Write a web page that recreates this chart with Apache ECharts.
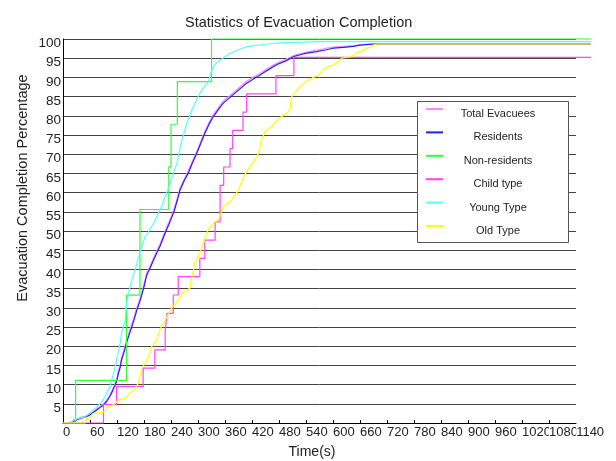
<!DOCTYPE html>
<html>
<head>
<meta charset="utf-8">
<script src="https://cdn.jsdelivr.net/npm/echarts@6/dist/echarts.min.js"></script>
<style>
html,body{margin:0;padding:0;background:#fff;}
#c{width:616px;height:461px;}
</style>
</head>
<body>
<div id="c"></div>
<script>
// ---- data ----
var titleText = 'Statistics of Evacuation Completion';
var xName = 'Time(s)';
var yName = 'Evacuation Completion Percentage';
var seriesNames = ['Total Evacuees', 'Residents', 'Non-residents', 'Child type', 'Young Type', 'Old Type'];
var xTicks = [0,60,120,180,240,300,360,420,480,540,600,660,720,780,840,900,960,1020,1080,1140];
var yTicks = [5,10,15,20,25,30,35,40,45,50,55,60,65,70,75,80,85,90,95,100];
var dataEnd = 1173; // lines run a little past the last labelled tick

var totalT = [15,19,30,38,50,60,68,75,82,90,97,104,110,116,120,123,127,130,136,141,147,153,159,164,170,175,181,186,194,201,208,215,222,230,238,247,254,260,269,278,287,297,306,315,324,334,345,356,369,382,395,408,423,438,452,467,480,495,512,527,542,564,585,600,623,645,660,680,695,1173];
var totalV = [0,0.4,0.9,1.4,1.8,2.3,3.0,3.7,4.3,5.0,6.0,7.3,8.8,10.4,11.8,13.5,15.2,17.0,19.3,21.5,23.7,25.8,28.0,30.1,32.1,34.0,36.7,39.1,41.1,43.0,44.8,46.5,48.6,50.9,53.1,55.8,58.6,61.2,63.5,65.6,68.1,70.7,73.3,75.9,78.2,80.3,82.1,83.8,85.1,86.4,87.7,89.0,90.1,91.1,92.2,93.2,94.0,94.7,95.7,96.2,96.6,97.1,97.6,97.9,98.1,98.3,98.5,98.7,98.7,98.7];

var residentsT = [15,19,30,38,50,60,68,75,82,90,97,104,110,116,120,123,127,130,136,141,147,153,159,164,170,175,181,186,194,201,208,215,222,230,238,247,254,260,269,278,287,297,306,315,324,334,345,356,369,382,395,408,423,438,452,467,480,495,512,527,542,564,585,600,623,645,660,680,697,1173];
var residentsV = [0,0.3,0.8,1.2,1.6,2.1,2.8,3.4,4.0,4.7,5.6,6.9,8.3,9.9,11.2,12.9,14.5,16.4,18.6,20.8,23.0,25.1,27.3,29.4,31.4,33.3,36.0,38.5,40.5,42.4,44.2,45.9,48.0,50.3,52.5,55.2,58.0,60.7,63.0,65.0,67.6,70.2,72.8,75.4,77.7,79.8,81.6,83.3,84.6,85.9,87.2,88.5,89.6,90.6,91.7,92.8,93.6,94.3,95.4,95.9,96.3,96.7,97.2,97.6,97.8,98.1,98.4,98.6,98.7,98.7];

var nonResT = [28,28,141,171,235,240,254,330,1173];
var nonResV = [0,11.1,33.3,55.6,66.7,77.8,88.9,100,100];

var childT = [0,90,119,178,204,227,231,245,256,304,315,338,349,357,371,377,400,408,473,513,1173];
var childV = [0,4.76,9.52,14.29,19.05,23.81,28.57,33.33,38.10,42.86,47.62,52.38,61.90,66.67,71.43,76.19,80.95,85.71,90.48,95.24,95.24];

var youngT = [18,23,35,49,58,67,77,86,92,97,104,108,112,115,119,123,127,130,134,138,141,145,149,154,160,165,171,176,182,190,197,201,208,214,219,228,238,245,253,258,264,270,275,281,286,295,304,313,323,328,334,341,349,360,371,390,408,440,471,520,571,1173];
var youngV = [0,0.8,1.2,1.6,2.5,3.4,4.4,5.5,6.6,7.7,9.5,11.2,12.7,14.2,16.4,18.6,20.8,23.4,25.0,26.8,31.2,33.4,35.5,37.6,39.8,42.0,44.2,46.3,48.5,49.8,51.1,52.0,53.6,55.2,56.3,59.3,62.4,65.0,67.6,70.5,73.7,76.0,78.0,79.8,81.5,83.7,85.9,87.4,88.9,91.0,92.8,93.7,94.5,95.4,96.3,97.2,98.0,98.5,98.9,99.1,99.3,99.3];

var oldT = [0,49,53,60,67,80,93,97,112,123,138,149,160,167,171,175,182,190,197,208,215,227,241,256,267,282,286,293,304,312,319,327,334,345,356,375,390,401,412,423,434,441,449,464,478,497,504,508,523,545,567,582,600,612,619,641,653,671,690,697,1173];
var oldV = [0,0,1.2,1.6,2.5,2.7,2.9,4.2,4.7,6.0,6.4,7.7,9.0,10.3,12.1,14.2,15.5,17.3,19.9,21.6,24.2,26.8,29.9,32.0,34.2,35.1,37.7,41.6,44.2,46.8,49.4,51.1,52.0,52.9,56.3,58.1,60.7,64.1,66.3,68.0,70.2,73.7,75.9,77.2,79.3,80.6,81.5,85.0,87.2,89.3,90.6,92.4,93.2,94.1,95.0,95.4,96.4,97.3,98.4,98.7,98.7];

var colors = ['#ff88ff', '#2020ff', '#33ff33', '#ff44ff', '#55ffff', '#ffff00'];

function pairs(t, v) { return t.map(function (x, i) { return [x, v[i]]; }); }

var SANS = "'Liberation Sans', Arial, sans-serif";
var lastTick = xTicks[xTicks.length - 1];

var seriesData = [
  {d: pairs(totalT, totalV)},
  {d: pairs(residentsT, residentsV)},
  {d: pairs(nonResT, nonResV), step: 'end'},
  {d: pairs(childT, childV), step: 'end'},
  {d: pairs(youngT, youngV)},
  {d: pairs(oldT, oldV)}
];

var xLabelStyle = {
  align: 'left', margin: 3, fontFamily: SANS, fontSize: 13, color: '#222',
  backgroundColor: '#fff', hideOverlap: false, showMinLabel: true, showMaxLabel: false
};

var chart = echarts.init(document.getElementById('c'), null, {renderer: 'canvas'});
chart.setOption({
  animation: false,
  backgroundColor: '#fff',
  color: colors,
  title: {
    text: titleText, left: 180, top: 10,
    textStyle: {fontFamily: SANS, fontSize: 14.5, fontWeight: 'normal', color: '#222'}
  },
  grid: [
    {left: 63, right: 40, top: 39, bottom: 38, containLabel: false},
    {left: 63, right: 25, top: 39, bottom: 38, containLabel: false}
  ],
  xAxis: [{
    gridIndex: 0, type: 'value', min: 0, max: lastTick, interval: 60,
    axisLine: {show: true, lineStyle: {color: '#000', width: 1}},
    axisTick: {show: true, inside: true, length: 3, lineStyle: {color: '#000'}},
    splitLine: {show: false},
    axisLabel: Object.assign({}, xLabelStyle, {
      formatter: function (v) { return (xTicks.indexOf(v) >= 0 && v !== lastTick) ? String(v) : ''; }
    })
  }, {
    gridIndex: 1, type: 'value', min: 0, max: dataEnd, interval: 60,
    axisLine: {show: false}, axisTick: {show: false}, splitLine: {show: false},
    axisLabel: Object.assign({}, xLabelStyle, {
      showMinLabel: false,
      formatter: function (v) { return v === lastTick ? String(v) : ''; }
    })
  }],
  yAxis: [{
    gridIndex: 0, type: 'value', min: 0, max: 100, interval: 5,
    axisLine: {show: true, lineStyle: {color: '#000', width: 1}},
    axisTick: {show: false},
    splitLine: {show: true, lineStyle: {color: '#444', width: 1}},
    axisLabel: {
      margin: 2, fontFamily: SANS, fontSize: 13.5, color: '#222',
      verticalAlign: 'top', lineHeight: 9, showMaxLabel: true,
      formatter: function (v) { return yTicks.indexOf(v) >= 0 ? String(v) : ''; }
    }
  }, {
    gridIndex: 1, type: 'value', min: 0, max: 100, show: false,
    splitLine: {show: false}
  }],
  legend: {
    orient: 'vertical', left: 426, top: 98.5, padding: 0,
    itemWidth: 17, itemHeight: 2, itemGap: 2.4, icon: 'rect',
    data: seriesNames,
    formatter: function (n) { return '{a|' + n + '}'; },
    textStyle: {
      rich: {a: {fontFamily: SANS, fontSize: 11, color: '#222', width: 100, align: 'center', padding: [10, 0, 0, 0], lineHeight: 13}}
    }
  },
  graphic: [
    {type: 'rect', z: 3, shape: {x: 417.5, y: 101.5, width: 151, height: 141},
     style: {fill: '#fff', stroke: '#555', lineWidth: 1}},
    {type: 'text', z: 5, x: 23, y: 188, rotation: Math.PI / 2,
     style: {text: yName, fontFamily: SANS, fontSize: 14.5, fill: '#222', align: 'center', verticalAlign: 'middle'}},
    {type: 'text', z: 5, x: 312, y: 452,
     style: {text: xName, fontFamily: SANS, fontSize: 14, fill: '#222', align: 'center', verticalAlign: 'middle'}}
  ],
  series: seriesData.map(function (s, i) {
    return {
      name: seriesNames[i], type: 'line', data: s.d, step: s.step || false,
      xAxisIndex: 1, yAxisIndex: 1,
      showSymbol: false, symbol: 'none', clip: false, smooth: false,
      lineStyle: {width: 1.2, color: colors[i]},
      itemStyle: {color: colors[i]},
      z: 2 + i
    };
  })
});
</script>
</body>
</html>
